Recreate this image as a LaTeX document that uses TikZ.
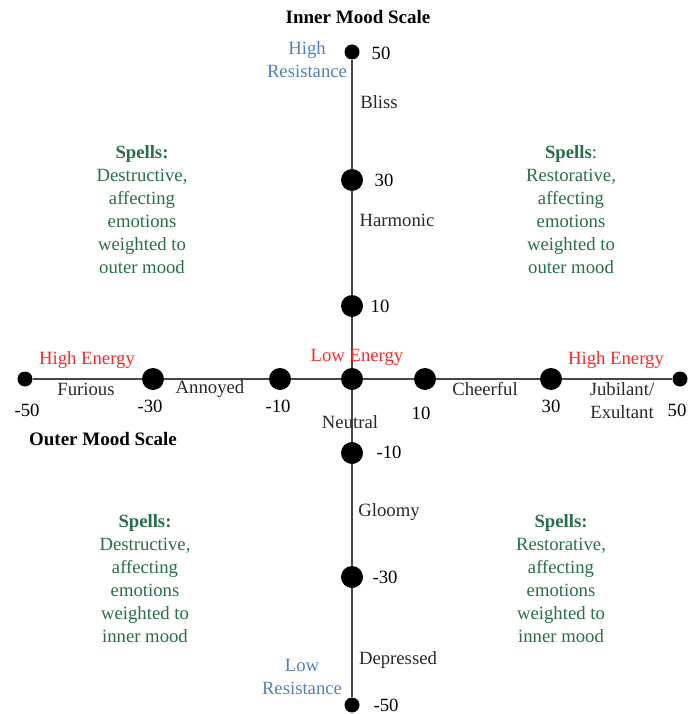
\documentclass[tikz,border=0pt]{standalone}
\usepackage{fontspec}
\setmainfont{Liberation Serif}
\definecolor{resblue}{RGB}{79,129,189}
\definecolor{energyred}{RGB}{255,40,40}
\definecolor{spellgreen}{RGB}{40,110,70}
\definecolor{axisgray}{RGB}{70,70,70}
\definecolor{labelgray}{RGB}{40,40,40}
\begin{document}
\begin{tikzpicture}[x=1pt,y=-1pt,
  every node/.style={font=\fontsize{18.7}{23}\selectfont, inner sep=0pt},
  bigdot/.style={circle,fill=black,minimum size=22pt},
  smalldot/.style={circle,fill=black,minimum size=15pt},
  axisline/.style={draw=axisgray,line width=1.6pt},
  lbl/.style={text=labelgray},
  num/.style={text=black},
  res/.style={text=resblue,align=center},
  energy/.style={text=energyred},
  spells/.style={text=spellgreen,align=center},
  title/.style={font=\fontsize{19}{23}\selectfont\bfseries}
]
\useasboundingbox (0,0) rectangle (698,714);
% vertical dots
\node[smalldot] (v50) at (352,52) {};
\node[bigdot] (v30) at (352,180) {};
\node[bigdot] (v10) at (352,306) {};
\node[bigdot] (c) at (352,379) {};
\node[bigdot] (vm10) at (352,453) {};
\node[bigdot] (vm30) at (352,577) {};
\node[smalldot] (vm50) at (352,705) {};
% horizontal dots
\node[smalldot] (hm50) at (25,379) {};
\node[bigdot] (hm30) at (153,379) {};
\node[bigdot] (hm10) at (280,379) {};
\node[bigdot] (h10) at (425,379) {};
\node[bigdot] (h30) at (551,379) {};
\node[smalldot] (h50) at (680,379) {};
% axes
\draw[axisline] (v50) -- (v30) -- (v10) -- (c) -- (vm10) -- (vm30) -- (vm50);
\draw[axisline] (hm50) -- (hm30) -- (hm10) -- (c) -- (h10) -- (h30) -- (h50);
% titles
\node[title] (tin) at (358,17) {Inner Mood Scale};
\node[title] (tout) at (103,439) {Outer Mood Scale};
% vertical labels
\node[num] (n50) at (381,53) {50};
\node[num] (n30) at (384,180) {30};
\node[num] (n10) at (380,306) {10};
\node[num] (nm10) at (389,452) {-10};
\node[num] (nm30) at (385,577) {-30};
\node[num] (nm50) at (386,705) {-50};
\node[lbl] (bliss) at (379,102) {Bliss};
\node[lbl] (harm) at (397,220) {Harmonic};
\node[lbl] (neut) at (350,422) {Neutral};
\node[lbl] (gloomy) at (389,512) {Gloomy};
\node[lbl] (depr) at (398,660) {Depressed};
\node[res] (hires) at (307,60) {High\\Resistance};
\node[res] (lores) at (302,677) {Low\\Resistance};
% horizontal labels
\node[num] (xm50) at (27,410) {-50};
\node[num] (xm30) at (150,406) {-30};
\node[num] (xm10) at (278,406) {-10};
\node[num] (x10) at (421,413) {10};
\node[num] (x30) at (551,406) {30};
\node[num] (x50) at (677,410) {50};
\node[lbl] (fur) at (86,389) {Furious};
\node[lbl] (ann) at (210,389) {Annoyed};
\node[lbl] (che) at (485,389) {Cheerful};
\node[lbl,align=center] (jub) at (622,401) {Jubilant/\\Exultant};
\node[energy] (he1) at (87,360) {High Energy};
\node[energy] (le) at (357,357) {Low Energy};
\node[energy] (he2) at (616,360) {High Energy};
% spells
\node[spells] (s1) at (142,210) {\textbf{Spells:}\\Destructive,\\affecting\\emotions\\weighted to\\outer mood};
\node[spells] (s2) at (571,210) {\textbf{Spells}:\\Restorative,\\affecting\\emotions\\weighted to\\outer mood};
\node[spells] (s3) at (145,579) {\textbf{Spells:}\\Destructive,\\affecting\\emotions\\weighted to\\inner mood};
\node[spells] (s4) at (561,579) {\textbf{Spells:}\\Restorative,\\affecting\\emotions\\weighted to\\inner mood};
\end{tikzpicture}
\end{document}
